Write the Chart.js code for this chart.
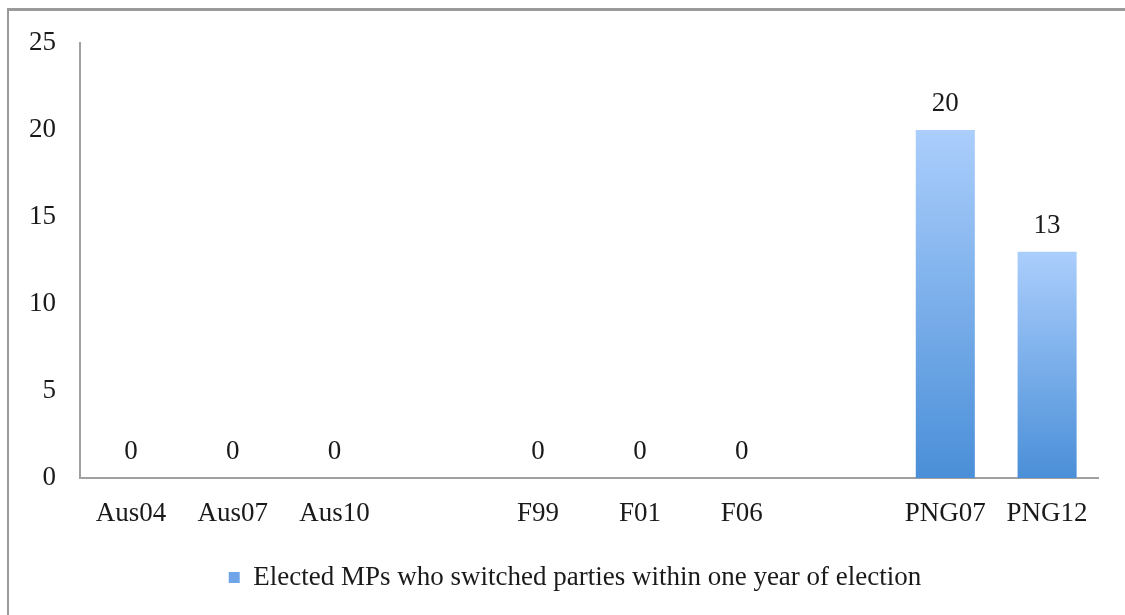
<!DOCTYPE html>
<html lang="en">
<head>
    <meta charset="UTF-8">
    <title>Elected MPs who switched parties</title>
    <script src="https://cdn.jsdelivr.net/npm/chart.js"></script>
    <style>
        body {
            margin: 0;
            background: #ffffff;
            overflow: hidden;
        }
        .frame {
            position: absolute;
            left: 7px;
            top: 8px;
            width: 1300px;
            height: 800px;
            border: 2px solid #9a9a9a;
            border-top-width: 3px;
        }
        .chart-box {
            position: absolute;
            left: 0;
            top: 0;
            width: 1125px;
            height: 615px;
        }
    </style>
</head>
<body>
    <div class="frame"></div>
    <div class="chart-box">
        <canvas id="mpChart"></canvas>
    </div>

    <script>
        // datos (huecos vacios entre grupos)
        const categories = ['Aus04', 'Aus07', 'Aus10', '', 'F99', 'F01', 'F06', '', 'PNG07', 'PNG12'];
        const switchedMPs = [0, 0, 0, null, 0, 0, 0, null, 20, 13];
        const seriesName = 'Elected MPs who switched parties within one year of election';
        const yMin = 0;
        const yMax = 25;
        const yStep = 5;

        const fontFamily = '"Liberation Serif", "Times New Roman", serif';
        const fontSize = 27;
        const textColor = '#1a1a1a';

        // degradado por barra, claro arriba y oscuro abajo
        function barGradient(context) {
            const chart = context.chart;
            const value = context.raw;
            if (!chart.chartArea || value === null || value === undefined) {
                return '#7aaeea';
            }
            const yScale = chart.scales.y;
            const top = yScale.getPixelForValue(value);
            const bottom = yScale.getPixelForValue(0);
            if (bottom - top < 1) {
                return '#4a90d9';
            }
            const g = chart.ctx.createLinearGradient(0, top, 0, bottom);
            g.addColorStop(0, '#abcefc');
            g.addColorStop(1, '#4a8fd8');
            return g;
        }

        // etiquetas con el valor encima de cada barra
        const valueLabels = {
            id: 'valueLabels',
            afterDatasetsDraw(chart) {
                const ctx = chart.ctx;
                const meta = chart.getDatasetMeta(0);
                ctx.save();
                ctx.font = fontSize + 'px ' + fontFamily;
                ctx.fillStyle = textColor;
                ctx.textAlign = 'center';
                ctx.textBaseline = 'middle';
                meta.data.forEach((bar, i) => {
                    const v = switchedMPs[i];
                    if (v === null) return;
                    ctx.fillText(String(v), bar.x, bar.y - 26);
                });
                ctx.restore();
            }
        };

        const ctx = document.getElementById('mpChart').getContext('2d');
        window.mpChart = new Chart(ctx, {
            type: 'bar',
            data: {
                labels: categories,
                datasets: [{
                    label: seriesName,
                    data: switchedMPs,
                    backgroundColor: barGradient,
                    borderWidth: 0,
                    barPercentage: 0.58,
                    categoryPercentage: 1.0
                }]
            },
            options: {
                responsive: true,
                maintainAspectRatio: false,
                animation: false,
                layout: {
                    padding: { left: 25, right: 0, top: 43, bottom: 14 }
                },
                plugins: {
                    tooltip: { enabled: false },
                    legend: {
                        position: 'bottom',
                        labels: {
                            font: { family: fontFamily, size: fontSize },
                            color: textColor,
                            boxWidth: 11,
                            boxHeight: 11,
                            padding: 10,
                            generateLabels(chart) {
                                return [{
                                    text: seriesName,
                                    fillStyle: '#6fa5e8',
                                    strokeStyle: '#6fa5e8',
                                    lineWidth: 0,
                                    fontColor: textColor,
                                    datasetIndex: 0
                                }];
                            }
                        }
                    }
                },
                scales: {
                    x: {
                        grid: { display: false, drawTicks: false },
                        border: { display: true, color: '#a0a0a0', width: 2 },
                        ticks: {
                            font: { family: fontFamily, size: fontSize },
                            color: textColor,
                            padding: 20,
                            maxRotation: 0,
                            autoSkip: false
                        },
                        afterFit(scale) {
                            scale.height = 76;
                        }
                    },
                    y: {
                        min: yMin,
                        max: yMax,
                        grid: { display: false, drawTicks: false },
                        border: { display: true, color: '#a0a0a0', width: 2 },
                        ticks: {
                            stepSize: yStep,
                            font: { family: fontFamily, size: fontSize },
                            color: textColor,
                            padding: 24
                        },
                        afterFit(scale) {
                            scale.width = 55;
                        }
                    },
                    // eje vacio a la derecha, solo reserva el margen
                    yRight: {
                        position: 'right',
                        min: yMin,
                        max: yMax,
                        grid: { display: false, drawTicks: false },
                        border: { display: false },
                        ticks: { display: false },
                        afterFit(scale) {
                            scale.width = 27;
                        }
                    }
                }
            },
            plugins: [valueLabels]
        });
    </script>
</body>
</html>
